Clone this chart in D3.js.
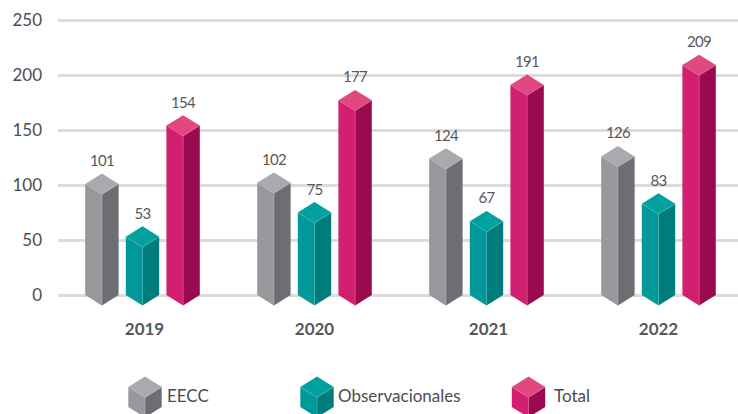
<!DOCTYPE html>
<html>
<head>
<meta charset="utf-8">
<script src="https://cdn.jsdelivr.net/npm/d3@7"></script>
<style>
  html, body { margin: 0; padding: 0; background: #fff; overflow: hidden; }
  text { font-family: Lato, "Open Sans", sans-serif; fill: #4d4d4f; }
  .grid .domain { display: none; }
  .grid line { stroke: #dcdcdc; stroke-width: 3px; }
</style>
</head>
<body>
<div id="chart"></div>
<script>
var years = ["2019", "2020", "2021", "2022"];
var seriesNames = ["EECC", "Observacionales", "Total"];
var eecc = [101, 102, 124, 126];
var observacionales = [53, 75, 67, 83];
var total = [154, 177, 191, 209];
var yTicks = [0, 50, 100, 150, 200, 250];

var seriesValues = [eecc, observacionales, total];
var colors = [
  { top: "#a9aaad", front: "#97989b", side: "#6d6e71", edge: "#b4b5b8" },
  { top: "#00a19f", front: "#009899", side: "#007c7d", edge: "#4db8b8" },
  { top: "#e0487f", front: "#d31f6f", side: "#9a0a4f", edge: "#e2608f" }
];

var width = 738;
var height = 414;
var halfBar = 16.7;
var rise = 10.4;

var svg = d3.select("#chart").append("svg")
  .attr("width", width)
  .attr("height", height)
  .style("display", "block");

var y = d3.scaleLinear().domain([0, 250]).range([295, 20]);
var x0 = d3.scaleBand().domain(years).range([56.5, 744.5]);
var x1 = d3.scalePoint().domain(seriesNames).range([-40.6, 40.6]);

// gridlines and left labels
var yAxis = svg.append("g")
  .attr("class", "grid")
  .attr("transform", "translate(58,0)")
  .call(d3.axisLeft(y).tickValues(yTicks).tickSize(-680).tickPadding(16));
yAxis.selectAll("text")
  .style("font-size", "17px")
  .attr("text-anchor", "end");

// a box with its left shoulder at yTop and its foot at yBase
function cube(g, cx, yTop, yBase, c) {
  g.append("path")
    .attr("d", "M" + (cx - halfBar) + "," + yTop + "L" + cx + "," + (yTop + rise) + "L" + cx + "," + (yBase + rise) + "L" + (cx - halfBar) + "," + yBase + "Z")
    .attr("fill", c.front);
  g.append("path")
    .attr("d", "M" + cx + "," + (yTop + rise) + "L" + (cx + halfBar) + "," + yTop + "L" + (cx + halfBar) + "," + yBase + "L" + cx + "," + (yBase + rise) + "Z")
    .attr("fill", c.side);
  g.append("path")
    .attr("d", "M" + (cx - halfBar) + "," + yTop + "L" + cx + "," + (yTop - rise) + "L" + (cx + halfBar) + "," + yTop + "L" + cx + "," + (yTop + rise) + "Z")
    .attr("fill", c.top);
  g.append("path")
    .attr("d", "M" + (cx - halfBar) + "," + yTop + "L" + cx + "," + (yTop + rise) + "L" + (cx + halfBar) + "," + yTop + "M" + cx + "," + (yTop + rise) + "L" + cx + "," + (yBase + rise))
    .attr("fill", "none")
    .attr("stroke", c.edge)
    .attr("stroke-width", 0.6);
}

var groups = svg.selectAll(".year")
  .data(years)
  .enter().append("g")
  .attr("class", "year")
  .attr("transform", function(d) { return "translate(" + (x0(d) + x0.bandwidth() / 2) + ",0)"; });

groups.each(function(year, i) {
  var g = d3.select(this);
  seriesNames.forEach(function(name, s) {
    var v = seriesValues[s][i];
    cube(g, x1(name), y(v), y(0), colors[s]);
    g.append("text")
      .attr("x", x1(name))
      .attr("y", y(v) - 18)
      .attr("text-anchor", "middle")
      .style("font-size", "15px")
      .style("letter-spacing", "-0.7px")
      .style("fill", "#58585a")
      .text(v);
  });
  g.append("text")
    .attr("x", i % 2 ? 0 : 2)
    .attr("y", 335)
    .attr("text-anchor", "middle")
    .style("font-size", "17px")
    .style("font-weight", "700")
    .style("fill", "#58585a")
    .text(year);
});

// legend
var legendX = d3.scaleOrdinal().domain(seriesNames).range([145, 317, 528.5]);
var legendTextX = d3.scaleOrdinal().domain(seriesNames).range([167, 338, 554]);
seriesNames.forEach(function(name, s) {
  var g = svg.append("g");
  cube(g, legendX(name), 387, 407, colors[s]);
  g.append("text")
    .attr("x", legendTextX(name))
    .attr("y", 402)
    .style("font-size", "17px")
    .text(name);
});
</script>
</body>
</html>
